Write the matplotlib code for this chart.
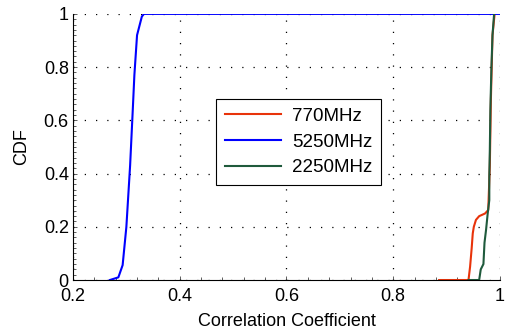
import matplotlib
matplotlib.use("Agg")
import matplotlib.pyplot as plt
from matplotlib.ticker import MultipleLocator

plt.rcParams['font.family'] = ['Liberation Sans', 'DejaVu Sans']

# Data (x = correlation coefficient, y = CDF)
blue_x = [0.269, 0.285, 0.293, 0.300, 0.307, 0.312, 0.315, 0.320, 0.329, 0.333, 1.0]
blue_y = [0.0, 0.01, 0.056, 0.20, 0.43, 0.64, 0.77, 0.92, 0.99, 1.0, 1.0]

red_x = [0.886, 0.941, 0.944, 0.947, 0.949, 0.951, 0.955, 0.961, 0.972, 0.978,
         0.981, 0.983, 0.986, 0.990]
red_y = [0.0, 0.0, 0.05, 0.12, 0.175, 0.20, 0.226, 0.24, 0.25, 0.263,
         0.43, 0.68, 0.92, 1.0]

green_x = [0.941, 0.961, 0.964, 0.969, 0.971, 0.974, 0.977, 0.980, 0.980,
           0.981, 0.982, 0.984, 0.986, 0.989]
green_y = [0.0, 0.0, 0.04, 0.06, 0.14, 0.19, 0.25, 0.30, 0.39,
           0.49, 0.64, 0.80, 0.92, 1.0]

labels = ['770MHz', '5250MHz', '2250MHz']
xticks = [0.2, 0.4, 0.6, 0.8, 1.0]
xticklabels = ['0.2', '0.4', '0.6', '0.8', '1']
yticks = [0, 0.2, 0.4, 0.6, 0.8, 1.0]
yticklabels = ['0', '0.2', '0.4', '0.6', '0.8', '1']

fig = plt.figure(figsize=(5.08, 3.31), dpi=100)
ax = fig.add_axes([0.1437, 0.154, 0.8405, 0.804])

ax.plot(red_x, red_y, color='#e8330a', lw=1.5, label=labels[0])
ax.plot(blue_x, blue_y, color='#0000ff', lw=1.5, label=labels[1])
ax.plot(green_x, green_y, color='#1f5a3c', lw=1.5, label=labels[2])

ax.set_xlim(0.2, 1.0)
ax.set_ylim(0, 1)
ax.set_xticks(xticks)
ax.set_xticklabels(xticklabels)
ax.set_yticks(yticks)
ax.set_yticklabels(yticklabels)
ax.xaxis.set_minor_locator(MultipleLocator(0.04))
ax.yaxis.set_minor_locator(MultipleLocator(0.02))
ax.tick_params(which='both', direction='in', labelsize=13, width=0.6, color='#444444')
ax.tick_params(which='major', length=3)
ax.tick_params(which='minor', length=2)
ax.tick_params(axis='x', pad=5.5)
ax.tick_params(axis='y', pad=3)

for s in ['top', 'right']:
    ax.spines[s].set_visible(False)
for s in ['left', 'bottom']:
    ax.spines[s].set_linewidth(0.8)

ax.grid(True, which='major', color='black', linestyle=(0, (1, 8)), linewidth=0.9)

ax.set_xlabel('Correlation Coefficient', fontsize=13, labelpad=6)
ax.set_ylabel('CDF', fontsize=13, labelpad=10)

leg = ax.legend(loc='upper left', bbox_to_anchor=(0.314, 0.714), fontsize=13.5,
                frameon=True, fancybox=False, framealpha=1, edgecolor='black',
                handlelength=3.0, borderpad=0.45, labelspacing=0.45, handletextpad=0.6)
leg.get_frame().set_linewidth(0.8)

fig.savefig('out.png', dpi=100)
